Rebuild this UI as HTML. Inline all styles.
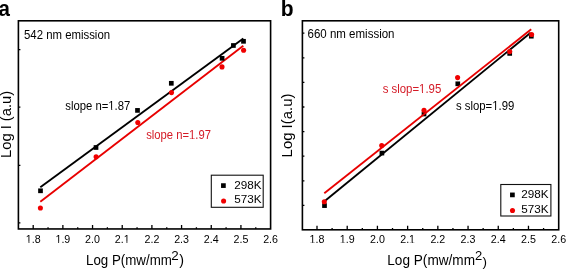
<!DOCTYPE html><html><head><meta charset="utf-8"><style>html,body{margin:0;padding:0;background:#fff;overflow:hidden}svg{display:block;will-change:transform}text{font-family:"Liberation Sans",sans-serif}</style></head><body>
<svg width="566" height="269" viewBox="0 0 566 269">
<rect x="18.4" y="20.8" width="252.20" height="208.15" fill="none" stroke="#000" stroke-width="1.6"/>
<path d="M33.20 228.95 V224.95 M62.88 228.95 V224.95 M48.04 228.95 V227.25 M92.55 228.95 V224.95 M77.71 228.95 V227.25 M122.23 228.95 V224.95 M107.39 228.95 V227.25 M151.90 228.95 V224.95 M137.06 228.95 V227.25 M181.57 228.95 V224.95 M166.74 228.95 V227.25 M211.25 228.95 V224.95 M196.41 228.95 V227.25 M240.93 228.95 V224.95 M226.09 228.95 V227.25 M255.76 228.95 V227.25 M18.4 49.60 H20.40 M18.4 107.10 H20.40 M18.4 165.40 H20.40 M18.4 222.80 H20.40 " stroke="#000" stroke-width="1.3" fill="none"/>
<g transform="translate(33.20,242.60) scale(1.0,1.09)"><text font-size="10.7" text-anchor="middle">1.8</text><rect x="-7.44" y="-0.80" width="2.76" height="1.34" fill="#fff"/><rect x="-3.78" y="-0.80" width="2.76" height="1.34" fill="#fff"/></g>
<g transform="translate(62.88,242.60) scale(1.0,1.09)"><text font-size="10.7" text-anchor="middle">1.9</text><rect x="-7.44" y="-0.80" width="2.76" height="1.34" fill="#fff"/><rect x="-3.78" y="-0.80" width="2.76" height="1.34" fill="#fff"/></g>
<g transform="translate(92.55,242.60) scale(1.0,1.09)"><text font-size="10.7" text-anchor="middle">2.0</text></g>
<g transform="translate(122.23,242.60) scale(1.0,1.09)"><text font-size="10.7" text-anchor="middle">2.1</text><rect x="1.49" y="-0.80" width="2.76" height="1.34" fill="#fff"/><rect x="5.15" y="-0.80" width="2.76" height="1.34" fill="#fff"/></g>
<g transform="translate(151.90,242.60) scale(1.0,1.09)"><text font-size="10.7" text-anchor="middle">2.2</text></g>
<g transform="translate(181.57,242.60) scale(1.0,1.09)"><text font-size="10.7" text-anchor="middle">2.3</text></g>
<g transform="translate(211.25,242.60) scale(1.0,1.09)"><text font-size="10.7" text-anchor="middle">2.4</text></g>
<g transform="translate(240.93,242.60) scale(1.0,1.09)"><text font-size="10.7" text-anchor="middle">2.5</text></g>
<g transform="translate(270.60,242.60) scale(1.0,1.09)"><text font-size="10.7" text-anchor="middle">2.6</text></g>
<rect x="302.4" y="20.8" width="256.30" height="209.00" fill="none" stroke="#000" stroke-width="1.6"/>
<path d="M317.00 229.8 V225.80 M347.21 229.8 V225.80 M332.10 229.8 V228.10 M377.42 229.8 V225.80 M362.31 229.8 V228.10 M407.63 229.8 V225.80 M392.52 229.8 V228.10 M437.84 229.8 V225.80 M422.74 229.8 V228.10 M468.05 229.8 V225.80 M452.94 229.8 V228.10 M498.26 229.8 V225.80 M483.15 229.8 V228.10 M528.47 229.8 V225.80 M513.37 229.8 V228.10 M543.58 229.8 V228.10 M302.4 33.20 H304.40 M302.4 57.80 H304.40 M302.4 82.40 H304.40 M302.4 107.00 H304.40 M302.4 131.60 H304.40 M302.4 156.20 H304.40 M302.4 180.80 H304.40 M302.4 205.40 H304.40 " stroke="#000" stroke-width="1.3" fill="none"/>
<g transform="translate(317.00,243.20) scale(1.0,1.09)"><text font-size="10.7" text-anchor="middle">1.8</text><rect x="-7.44" y="-0.80" width="2.76" height="1.34" fill="#fff"/><rect x="-3.78" y="-0.80" width="2.76" height="1.34" fill="#fff"/></g>
<g transform="translate(347.21,243.20) scale(1.0,1.09)"><text font-size="10.7" text-anchor="middle">1.9</text><rect x="-7.44" y="-0.80" width="2.76" height="1.34" fill="#fff"/><rect x="-3.78" y="-0.80" width="2.76" height="1.34" fill="#fff"/></g>
<g transform="translate(377.42,243.20) scale(1.0,1.09)"><text font-size="10.7" text-anchor="middle">2.0</text></g>
<g transform="translate(407.63,243.20) scale(1.0,1.09)"><text font-size="10.7" text-anchor="middle">2.1</text><rect x="1.49" y="-0.80" width="2.76" height="1.34" fill="#fff"/><rect x="5.15" y="-0.80" width="2.76" height="1.34" fill="#fff"/></g>
<g transform="translate(437.84,243.20) scale(1.0,1.09)"><text font-size="10.7" text-anchor="middle">2.2</text></g>
<g transform="translate(468.05,243.20) scale(1.0,1.09)"><text font-size="10.7" text-anchor="middle">2.3</text></g>
<g transform="translate(498.26,243.20) scale(1.0,1.09)"><text font-size="10.7" text-anchor="middle">2.4</text></g>
<g transform="translate(528.47,243.20) scale(1.0,1.09)"><text font-size="10.7" text-anchor="middle">2.5</text></g>
<g transform="translate(558.68,243.20) scale(1.0,1.09)"><text font-size="10.7" text-anchor="middle">2.6</text></g>
<g transform="translate(-1.50,15.90) scale(1.0,1.08)"><text font-size="20.5" font-weight="bold">a</text></g>
<g transform="translate(24.00,38.80) scale(1.0,1.05)"><text font-size="11.4">542 nm emission</text></g>
<g transform="translate(65.30,109.60) scale(1.0,1.08)"><text font-size="11.3">slope n=1.87</text><rect x="43.04" y="-0.85" width="2.92" height="1.41" fill="#fff"/><rect x="46.90" y="-0.85" width="2.92" height="1.41" fill="#fff"/></g>
<g transform="translate(146.25,139.40) scale(1.0,1.08)"><text font-size="11.25" fill="#d41a26">slope n=1.97</text><rect x="42.85" y="-0.84" width="2.90" height="1.41" fill="#fff"/><rect x="46.69" y="-0.84" width="2.90" height="1.41" fill="#fff"/></g>
<line x1="40.3" y1="187.2" x2="243.3" y2="38.6" stroke="#000" stroke-width="1.9"/>
<line x1="40.3" y1="201.7" x2="243.3" y2="45.8" stroke="#e80000" stroke-width="1.9"/>
<rect x="38.15" y="188.45" width="4.7" height="4.7" fill="#000"/>
<rect x="93.65" y="145.15" width="4.7" height="4.7" fill="#000"/>
<rect x="135.15" y="108.05" width="4.7" height="4.7" fill="#000"/>
<rect x="168.95" y="80.95" width="4.7" height="4.7" fill="#000"/>
<rect x="219.75" y="55.95" width="4.7" height="4.7" fill="#000"/>
<rect x="231.05" y="43.15" width="4.7" height="4.7" fill="#000"/>
<rect x="241.15" y="38.95" width="4.7" height="4.7" fill="#000"/>
<circle cx="40.4" cy="208" r="2.55" fill="#f00000"/>
<circle cx="96.1" cy="156.8" r="2.55" fill="#f00000"/>
<circle cx="137.8" cy="122.5" r="2.55" fill="#f00000"/>
<circle cx="171.5" cy="92.6" r="2.55" fill="#f00000"/>
<circle cx="222" cy="66.9" r="2.55" fill="#f00000"/>
<circle cx="243.6" cy="50.3" r="2.55" fill="#f00000"/>
<rect x="211.3" y="175.2" width="51.9" height="32.1" fill="none" stroke="#111" stroke-width="1.1"/>
<rect x="221.05" y="183.25" width="4.7" height="4.7" fill="#000"/>
<circle cx="223.6" cy="201" r="2.55" fill="#f00000"/>
<g transform="translate(234.20,188.70)"><text font-size="11.7">298K</text></g>
<g transform="translate(234.20,203.40)"><text font-size="11.7">573K</text></g>
<g transform="translate(10.90,157.90) rotate(-90) scale(1.036,1.0)"><text font-size="14.2">Log I (a.u)</text></g>
<g transform="translate(86.00,265.30) scale(1.0,1.05)"><text font-size="13.3" textLength="85.9" lengthAdjust="spacingAndGlyphs">Log P(mw/mm</text></g>
<g transform="translate(171.20,259.60)"><text font-size="13.4">2</text></g>
<g transform="translate(179.30,265.10)"><text font-size="14.3">)</text></g>
<g transform="translate(280.70,16.00) scale(1.0,1.05)"><text font-size="21" font-weight="bold">b</text></g>
<g transform="translate(307.55,37.80) scale(1.0,1.05)"><text font-size="11.52">660 nm emission</text></g>
<g transform="translate(382.65,92.50) scale(1.0,1.07)"><text font-size="11.4" fill="#d41a26">s slop=1.95</text><rect x="36.44" y="-0.85" width="2.94" height="1.43" fill="#fff"/><rect x="40.34" y="-0.85" width="2.94" height="1.43" fill="#fff"/></g>
<g transform="translate(455.90,109.60) scale(1.0,1.07)"><text font-size="11.35">s slop=1.99</text><rect x="36.28" y="-0.85" width="2.93" height="1.42" fill="#fff"/><rect x="40.16" y="-0.85" width="2.93" height="1.42" fill="#fff"/></g>
<line x1="324.8" y1="201" x2="530.6" y2="32.8" stroke="#000" stroke-width="1.9"/>
<rect x="322.15" y="203.25" width="4.7" height="4.7" fill="#000"/>
<rect x="379.55" y="150.75" width="4.7" height="4.7" fill="#000"/>
<rect x="421.65" y="111.65" width="4.7" height="4.7" fill="#000"/>
<rect x="455.45" y="81.45" width="4.7" height="4.7" fill="#000"/>
<rect x="507.35" y="51.05" width="4.7" height="4.7" fill="#000"/>
<rect x="528.95" y="33.85" width="4.7" height="4.7" fill="#000"/>
<line x1="324.3" y1="193.3" x2="531.2" y2="29.3" stroke="#e80000" stroke-width="1.9"/>
<circle cx="324.3" cy="201.8" r="2.55" fill="#f00000"/>
<circle cx="381.7" cy="145.6" r="2.55" fill="#f00000"/>
<circle cx="424" cy="110.3" r="2.55" fill="#f00000"/>
<circle cx="457.6" cy="77.6" r="2.55" fill="#f00000"/>
<circle cx="509.7" cy="51.6" r="2.55" fill="#f00000"/>
<circle cx="531.6" cy="34.5" r="2.55" fill="#f00000"/>
<rect x="500.8" y="184.5" width="50.1" height="31.5" fill="none" stroke="#111" stroke-width="1.1"/>
<rect x="510.05" y="192.55" width="4.7" height="4.7" fill="#000"/>
<circle cx="512.5" cy="210.5" r="2.55" fill="#f00000"/>
<g transform="translate(521.30,197.50)"><text font-size="11.7">298K</text></g>
<g transform="translate(521.30,212.90)"><text font-size="11.7">573K</text></g>
<g transform="translate(292.10,157.40) rotate(-90) scale(1.073,1.0)"><text font-size="13.9">Log I(a.u)</text></g>
<g transform="translate(387.30,265.30) scale(1.0,1.04)"><text font-size="13.55" textLength="87.7" lengthAdjust="spacingAndGlyphs">Log P(mw/mm</text></g>
<g transform="translate(475.10,259.50)"><text font-size="13">2</text></g>
<g transform="translate(482.60,266.00)"><text font-size="13.4">)</text></g>
</svg></body></html>
